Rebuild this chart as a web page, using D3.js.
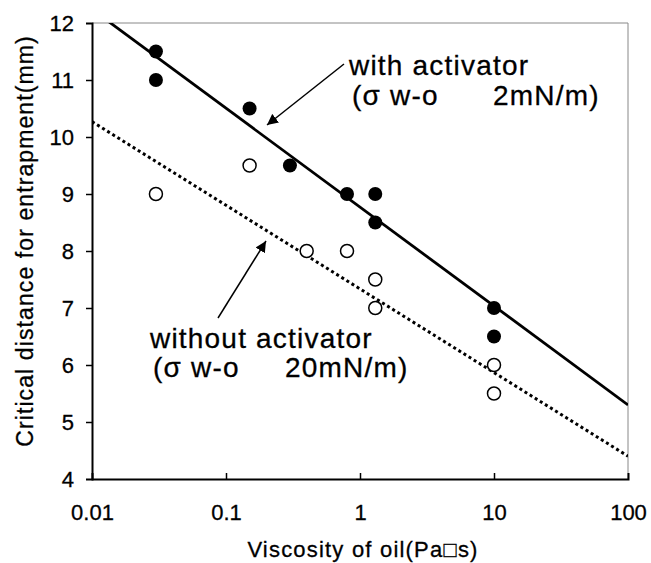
<!DOCTYPE html>
<html><head><meta charset="utf-8">
<script src="https://cdn.jsdelivr.net/npm/d3@7"></script>
<style>body{margin:0;background:#fff}svg{display:block}text{font-family:"Liberation Sans",Arial,sans-serif;fill:#000}</style>
</head><body><div id="chart"></div>
<script>
// data
const withX = [0.03, 0.03, 0.15, 0.3, 0.8, 1.3, 1.3, 10, 10];
const withY = [11.5, 11.0, 10.5, 9.5, 9.0, 9.0, 8.5, 7.0, 6.5];
const withoutX = [0.03, 0.15, 0.4, 0.8, 1.3, 1.3, 10, 10];
const withoutY = [9.0, 9.5, 8.0, 8.0, 7.5, 7.0, 6.0, 5.5];
const fitWithX = [0.01, 100], fitWithY = [12.24, 5.3];
const fitWithoutX = [0.01, 100], fitWithoutY = [10.27, 4.4];
const xTicks = [0.01, 0.1, 1, 10, 100];
const xTickLabels = ["0.01", "0.1", "1", "10", "100"];
const yTicks = [4, 5, 6, 7, 8, 9, 10, 11, 12];

const W = 651, H = 563;
const m = {l: 92, t: 23, r: 23, b: 84};
const iw = W - m.l - m.r, ih = H - m.t - m.b;
const svg = d3.select("#chart").append("svg").attr("width", W).attr("height", H);
const g = svg.append("g").attr("transform", `translate(${m.l},${m.t})`);
const x = d3.scaleLog().domain([0.01, 100]).range([0, iw]);
const y = d3.scaleLinear().domain([4, 12]).range([ih, 0]);

const defs = svg.append("defs");
defs.append("clipPath").attr("id", "clip").append("rect").attr("width", iw).attr("height", ih);

// frame (top/right thin gray)
g.append("line").attr("x1", 0).attr("x2", iw).attr("y1", 0).attr("y2", 0).attr("stroke", "#888").attr("stroke-width", 1);
g.append("line").attr("x1", iw).attr("x2", iw).attr("y1", 0).attr("y2", ih).attr("stroke", "#888").attr("stroke-width", 1);

// axes
const xa = g.append("g").attr("transform", `translate(0,${ih})`)
  .call(d3.axisBottom(x).tickValues(xTicks).tickFormat((d, i) => xTickLabels[i]).tickSize(-6).tickPadding(25));
const ya = g.append("g").call(d3.axisLeft(y).tickValues(yTicks).tickSize(6).tickPadding(12));
[xa, ya].forEach(a => {
  a.select(".domain").attr("stroke", "#000").attr("stroke-width", 2);
  a.selectAll(".tick line").attr("stroke", "#000").attr("stroke-width", 1.5);
  a.selectAll("text").attr("font-size", 22).attr("font-family", "Liberation Sans, Arial, sans-serif")
    .attr("stroke", "#000").attr("stroke-width", 0.3);
});
xa.selectAll(".tick").filter(d => d === 0.01 || d === 100).select("line").remove();
ya.selectAll(".tick").filter(d => d === 4 || d === 12).select("line").remove();

// fit lines
const line = d3.line().x(d => x(d[0])).y(d => y(d[1]));
const pg = g.append("g").attr("clip-path", "url(#clip)");
pg.append("path").datum(fitWithX.map((v, i) => [v, fitWithY[i]])).attr("d", line)
  .attr("fill", "none").attr("stroke", "#000").attr("stroke-width", 2.8);
pg.append("path").datum(fitWithoutX.map((v, i) => [v, fitWithoutY[i]])).attr("d", line)
  .attr("fill", "none").attr("stroke", "#000").attr("stroke-width", 3).attr("stroke-dasharray", "3,3");

// points
g.selectAll(".f").data(withX.map((v, i) => [v, withY[i]])).join("circle")
  .attr("cx", d => x(d[0])).attr("cy", d => y(d[1])).attr("r", 7).attr("fill", "#000");
g.selectAll(".o").data(withoutX.map((v, i) => [v, withoutY[i]])).join("circle")
  .attr("cx", d => x(d[0])).attr("cy", d => y(d[1])).attr("r", 6.5).attr("fill", "#fff").attr("stroke", "#000").attr("stroke-width", 1.5);

// annotations
defs.append("marker").attr("id", "ah").attr("viewBox", "0 0 10 10").attr("refX", 10).attr("refY", 5)
  .attr("markerWidth", 11).attr("markerHeight", 11).attr("markerUnits", "userSpaceOnUse").attr("orient", "auto")
  .append("path").attr("d", "M0,0 L10,5 L0,10 z").attr("fill", "#000");
function arrow(x1, y1, x2, y2) {
  svg.append("line").attr("x1", x1).attr("y1", y1).attr("x2", x2).attr("y2", y2)
    .attr("stroke", "#000").attr("stroke-width", 1.5).attr("marker-end", "url(#ah)");
}
arrow(344, 64, 267, 125);
arrow(218, 318, 266, 241);
const ann = svg.append("g").attr("font-size", 28).attr("letter-spacing", 1.2).attr("stroke", "#000").attr("stroke-width", 0.3);
ann.append("text").attr("x", 349).attr("y", 75).text("with activator");
ann.append("text").attr("x", 352).attr("y", 105).text("(σ w-o");
ann.append("text").attr("x", 493).attr("y", 105).text("2mN/m)");
ann.append("text").attr("x", 150).attr("y", 348).text("without activator");
ann.append("text").attr("x", 153).attr("y", 377).text("(σ w-o");
ann.append("text").attr("x", 285).attr("y", 377).text("20mN/m)");

// axis titles
svg.append("text").attr("x", 363).attr("y", 557).attr("text-anchor", "middle").attr("font-size", 22)
  .attr("letter-spacing", 1.2).attr("stroke", "#000").attr("stroke-width", 0.3)
  .text("Viscosity of oil(Pa□s)");
svg.append("text").attr("transform", "translate(33,241) rotate(-90)").attr("text-anchor", "middle").attr("font-size", 23)
  .attr("letter-spacing", 1.1).attr("stroke", "#000").attr("stroke-width", 0.3)
  .text("Critical distance for entrapment(mm)");
</script></body></html>
